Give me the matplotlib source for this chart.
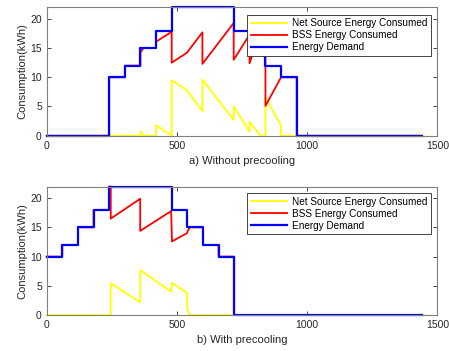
import matplotlib
matplotlib.use("Agg")
import matplotlib.pyplot as plt

plt.rcParams["font.family"] = ["Liberation Sans", "DejaVu Sans"]

# a) Without precooling  (time in minutes, kWh)
t_dem_a = [0, 240, 240, 300, 300, 360, 360, 420, 420, 480, 480, 720, 720, 840, 840, 900, 900, 960, 960, 1440]
dem_a = [0, 0, 10, 10, 12, 12, 15, 15, 18, 18, 22, 22, 18, 18, 12, 12, 10, 10, 0, 0]

t_bss_a = [0, 240, 240, 300, 300, 360, 360, 372, 420, 420, 480, 480, 538, 598, 598, 718, 718, 779, 779,
           821, 840, 840, 900, 960, 960, 1440]
bss_a = [0, 0, 10, 10, 12, 12, 14.3, 15, 15, 16.1, 17.8, 12.5, 14.2, 17.7, 12.3, 19.3, 13.0, 17.3, 12.4,
         18, 18, 5.1, 10, 10, 0, 0]

t_net_a = [0, 360, 360, 372, 420, 420, 480, 480, 538, 598, 598, 718, 718, 779, 779, 821, 840, 840, 898, 900, 1440]
net_a = [0, 0, 0.7, 0, 0, 1.8, 0, 9.5, 7.8, 4.2, 9.6, 2.7, 5.0, 0.7, 2.4, 0, 0, 6.5, 1.9, 0, 0]

# b) With precooling
t_dem_b = [0, 60, 60, 120, 120, 180, 180, 240, 240, 480, 480, 540, 540, 600, 600, 660, 660, 720, 720, 1440]
dem_b = [10, 10, 12, 12, 15, 15, 18, 18, 22, 22, 18, 18, 15, 15, 12, 12, 10, 10, 0, 0]

t_bss_b = [0, 60, 60, 120, 120, 180, 180, 240, 240, 246, 246, 359, 359, 478, 481, 538, 545, 551, 600, 600,
           660, 660, 720, 720, 1440]
bss_b = [10, 10, 12, 12, 15, 15, 18, 18, 22, 22, 16.5, 19.9, 14.4, 17.8, 12.6, 14.0, 14.7, 15, 15, 12,
         12, 10, 10, 0, 0]

t_net_b = [0, 246, 246, 359, 359, 478, 481, 538, 540, 545, 551, 1440]
net_b = [0, 0, 5.4, 2.2, 7.7, 4.0, 5.5, 3.8, 1.0, 0.3, 0, 0]

labels = ["Net Source Energy Consumed", "BSS Energy Consumed", "Energy Demand"]
captions = ["a) Without precooling", "b) With precooling"]

fig = plt.figure(figsize=(4.49, 3.51), dpi=100)
ax_a = fig.add_axes([0.104, 0.6134, 0.870, 0.366])
ax_b = fig.add_axes([0.104, 0.1026, 0.870, 0.366])

panels = [
    (ax_a, t_net_a, net_a, t_bss_a, bss_a, t_dem_a, dem_a, 0.940),
    (ax_b, t_net_b, net_b, t_bss_b, bss_b, t_dem_b, dem_b, 0.948),
]

for (ax, tn, n, tb, b, td, d, leg_top), cap in zip(panels, captions):
    ax.plot(tn, n, color="#ffff00", lw=1.3, label=labels[0], clip_on=False)
    ax.plot(tb, b, color="#ff0000", lw=1.3, label=labels[1], clip_on=False)
    ax.plot(td, d, color="#0000ff", lw=1.6, label=labels[2], clip_on=False)
    ax.set_xlim(0, 1500)
    ax.set_ylim(0, 22)
    ax.set_xticks([0, 500, 1000, 1500])
    ax.set_yticks([0, 5, 10, 15, 20])
    ax.tick_params(direction="in", top=True, right=True, labelsize=7.5,
                   colors="#262626", length=3, width=0.6)
    for s in ax.spines.values():
        s.set_color("#808080")
        s.set_linewidth(0.8)
    ax.set_ylabel("Consumption(kWh)", fontsize=8, color="#262626", labelpad=2)
    ax.set_xlabel(cap, fontsize=8, color="#262626", labelpad=4)
    leg = ax.legend(loc="upper right", bbox_to_anchor=(0.983, leg_top), fontsize=7.2,
                    frameon=True, fancybox=False, handlelength=3.6, borderpad=0.35,
                    labelspacing=0.2, handletextpad=0.5, borderaxespad=0)
    leg.get_frame().set_edgecolor("#262626")
    leg.get_frame().set_linewidth(0.6)
    leg.get_frame().set_alpha(1)
    leg.set_zorder(5)

fig.savefig("out.png", dpi=100, facecolor="white")
plt.close(fig)
